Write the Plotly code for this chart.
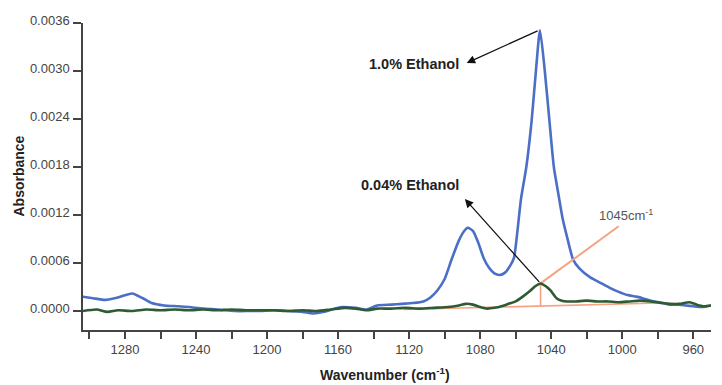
import plotly.graph_objects as go

# ---- data ----
wn_10 = [1304, 1298, 1291, 1284, 1276, 1270, 1265, 1258, 1250, 1244, 1236, 1228, 1218, 1210,
         1204, 1196, 1188, 1180, 1174, 1168, 1162, 1158, 1150, 1144, 1138, 1130, 1124, 1118,
         1112, 1108, 1104, 1100, 1096, 1092, 1089, 1087, 1084, 1081, 1078, 1075, 1072, 1069,
         1066, 1063, 1061, 1059, 1057, 1054, 1051, 1048.6, 1046.3, 1043.6, 1041, 1038.5,
         1036, 1033.5, 1031, 1027.6, 1024, 1018, 1012, 1007, 1002, 997, 992, 987, 982, 977,
         973, 968, 964, 960, 955, 950]
abs_10 = [0.00018, 0.00016, 0.00014, 0.00017, 0.00022, 0.00016, 0.00010, 0.00007, 0.00006,
          0.00005, 0.00003, 0.00002, 0.00000, 0.00000, 0.00000, 0.00001, 0.00000, -0.00001,
          -0.00003, -0.00001, 0.00003, 0.00005, 0.00004, 0.00002, 0.00007, 0.00008, 0.00009,
          0.00010, 0.00012, 0.00017, 0.00026, 0.00040, 0.00065, 0.00088, 0.00100, 0.00104,
          0.00100, 0.00085, 0.00066, 0.00054, 0.00047, 0.00045, 0.00048, 0.00057, 0.00066,
          0.00100, 0.00140, 0.00180, 0.00238, 0.00300, 0.00351, 0.00300, 0.00238, 0.00180,
          0.00147, 0.00115, 0.00092, 0.00064, 0.00053, 0.00042, 0.00035, 0.00029, 0.00024,
          0.00020, 0.00018, 0.00015, 0.00012, 0.00010, 0.00008, 0.00008, 0.00007, 0.00006,
          0.00005, 0.00007]

wn_004 = [1304, 1296, 1290, 1284, 1276, 1268, 1260, 1252, 1244, 1236, 1228, 1220, 1212, 1204,
          1196, 1188, 1180, 1172, 1164, 1156, 1150, 1144, 1138, 1130, 1122, 1114, 1106, 1098,
          1092, 1088, 1084, 1080, 1076, 1072, 1068, 1064, 1060, 1056, 1052, 1049, 1046, 1043,
          1040.5, 1037, 1034, 1031, 1026, 1020, 1014, 1008, 1002, 996, 990, 984, 978, 973, 968,
          962, 958, 954, 950]
abs_004 = [0.00000, 0.00002, -0.00001, 0.00001, 0.00000, 0.00002, 0.00001, 0.00002, 0.00001,
           0.00002, 0.00001, 0.00002, 0.00001, 0.00001, 0.00001, 0.00000, 0.00001, 0.00000,
           0.00002, 0.00004, 0.00003, 0.00001, 0.00003, 0.00003, 0.00004, 0.00003, 0.00004,
           0.00005, 0.00007, 0.00009, 0.00008, 0.00005, 0.00003, 0.00004, 0.00006, 0.00009,
           0.00012, 0.00018, 0.00025, 0.00031, 0.000345, 0.00031, 0.00026, 0.00016, 0.00013,
           0.00012, 0.00012, 0.00013, 0.00012, 0.00012, 0.00011, 0.00012, 0.00013, 0.00012,
           0.00010, 0.00009, 0.00009, 0.00011, 0.00008, 0.00006, 0.00007]

# peak-height construction lines (1045 cm-1 band)
base_wn = [1123, 979]
base_abs = [0.00002, 0.00010]
height_wn = [1046, 1046]
height_abs = [0.000063, 0.000345]
leader_wn = [1046, 1002]
leader_abs = [0.000345, 0.00106]

x_label_vals = [1280, 1240, 1200, 1160, 1120, 1080, 1040, 1000, 960]
x_minor_vals = [1300, 1260, 1220, 1180, 1140, 1100, 1060, 1020, 980]
y_tickvals = [0.0, 0.0006, 0.0012, 0.0018, 0.0024, 0.0030, 0.0036]

BLUE = "#4b6fc6"
GREEN = "#2f5b33"
ORANGE = "#f6a283"
AXIS = "#444444"
FONT = "Liberation Sans"

fig = go.Figure()
fig.add_trace(go.Scatter(x=wn_10, y=abs_10, mode="lines", line=dict(color=BLUE, width=2.6, shape="spline", smoothing=0.6), hoverinfo="skip"))
fig.add_trace(go.Scatter(x=base_wn, y=base_abs, mode="lines", line=dict(color=ORANGE, width=1.6), hoverinfo="skip"))
fig.add_trace(go.Scatter(x=height_wn, y=height_abs, mode="lines", line=dict(color=ORANGE, width=1.6), hoverinfo="skip"))
fig.add_trace(go.Scatter(x=leader_wn, y=leader_abs, mode="lines", line=dict(color=ORANGE, width=2), hoverinfo="skip"))
fig.add_trace(go.Scatter(x=wn_004, y=abs_004, mode="lines", line=dict(color=GREEN, width=2.6, shape="spline", smoothing=0.6), hoverinfo="skip"))

# arrows
fig.add_annotation(x=1087.6, y=0.00310, ax=1046.8, ay=0.00351, axref="x", ayref="y", xref="x", yref="y",
                   text="", showarrow=True, arrowhead=2, arrowsize=1.3, arrowwidth=1.3, arrowcolor="#111111")
fig.add_annotation(x=1088.6, y=0.00140, ax=1046, ay=0.000345, axref="x", ayref="y", xref="x", yref="y",
                   text="", showarrow=True, arrowhead=2, arrowsize=1.3, arrowwidth=1.3, arrowcolor="#111111")
# labels
fig.add_annotation(x=1090.8, y=0.00309, text="<b>1.0% Ethanol</b>", showarrow=False, xanchor="right",
                   yanchor="middle", font=dict(family=FONT, size=14.5, color="#222222"))
fig.add_annotation(x=1090.8, y=0.00158, text="<b>0.04% Ethanol</b>", showarrow=False, xanchor="right",
                   yanchor="middle", font=dict(family=FONT, size=14.5, color="#222222"))
fig.add_annotation(x=998, y=0.00120, text="1045cm<sup>-1</sup>", showarrow=False, xanchor="center",
                   yanchor="middle", font=dict(family=FONT, size=13, color="#555555"))
# axis titles
fig.add_annotation(xref="paper", yref="paper", x=(385 - 83) / 628, y=(385 - 374 - 55) / 307.3,
                   text="<b>Wavenumber (cm<sup>-1</sup>)</b>", showarrow=False, xanchor="center", yanchor="middle",
                   font=dict(family=FONT, size=14, color="#222222"))
fig.add_annotation(xref="paper", yref="paper", x=(18 - 83) / 628, y=0.5, textangle=-90,
                   text="<b>Absorbance</b>", showarrow=False, xanchor="center", yanchor="middle",
                   font=dict(family=FONT, size=14, color="#222222"))

fig.update_layout(
    width=722, height=385,
    margin=dict(l=83, r=11, t=23, b=55),
    paper_bgcolor="white", plot_bgcolor="white",
    showlegend=False,
    font=dict(family=FONT, size=13, color="#444444"),
)
fig.update_xaxes(range=[1303.65, 950.0], showgrid=False, zeroline=False,
                 showline=True, linecolor=AXIS, linewidth=1.5,
                 ticks="outside", ticklen=7, tickwidth=1.5, tickcolor=AXIS,
                 tickmode="array", tickvals=x_label_vals,
                 minor=dict(tickmode="array", tickvals=x_minor_vals, ticks="outside", ticklen=7,
                            tickwidth=1.5, tickcolor=AXIS, showgrid=False),
                 tickfont=dict(size=13, color="#444444"))
fig.update_yaxes(range=[-0.000237, 0.0036], showgrid=False, zeroline=False,
                 showline=True, linecolor=AXIS, linewidth=1.5,
                 ticks="outside", ticklen=8, tickwidth=1.5, tickcolor=AXIS,
                 tickvals=y_tickvals, tickformat=".4f", ticklabelshift=-3, ticklabelstandoff=1,
                 tickfont=dict(size=13, color="#444444"))

fig.write_html("out.html", config={"displayModeBar": False},
               post_script="document.body.style.margin='0';")
